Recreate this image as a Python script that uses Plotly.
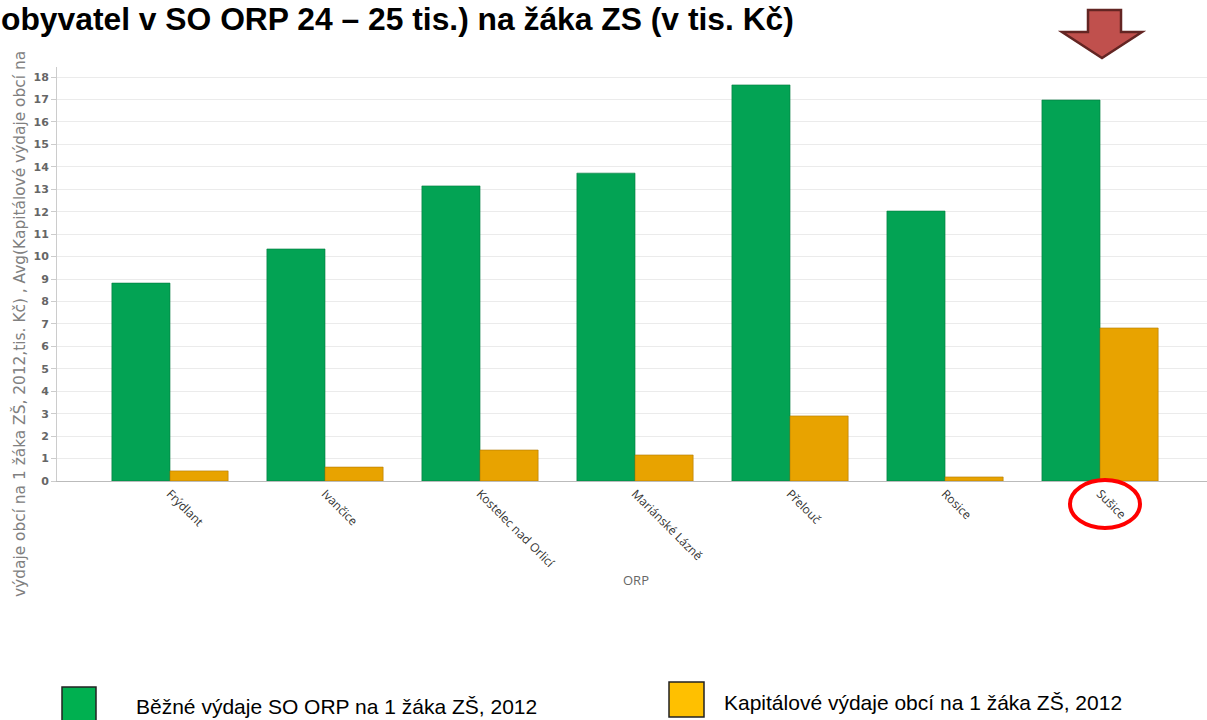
import plotly.graph_objects as go

categories = ["Frýdlant", "Ivančice", "Kostelec nad Orlicí", "Mariánské Lázně",
              "Přelouč", "Rosice", "Sušice"]
bezne = [8.82, 10.34, 13.15, 13.72, 17.65, 12.03, 16.98]
kapitalove = [0.45, 0.62, 1.38, 1.16, 2.90, 0.18, 6.82]
series_names = ["Běžné výdaje SO ORP na 1 žáka ZŠ, 2012",
                "Kapitálové výdaje obcí na 1 žáka ZŠ, 2012"]
y_ticks = list(range(0, 19))

W, H = 1207, 720
L, R, T, B = 57, 0, 67, 239
PW = W - L - R
PH = H - T - B


def px(xp):
    return (xp - L) / PW


def py(yp):
    return (H - B - yp) / PH


fig = go.Figure()
fig.add_trace(go.Bar(x=categories, y=bezne, name=series_names[0],
                     marker=dict(color="#03A354", line=dict(color="#017A3E", width=0.6))))
fig.add_trace(go.Bar(x=categories, y=kapitalove, name=series_names[1],
                     marker=dict(color="#E8A300", line=dict(color="#B07800", width=0.6))))

shapes = []
# red down arrow
pts = [(1088, 10), (1121, 10), (1121, 32), (1142, 32), (1102, 58), (1062, 32), (1088, 32)]
path = "M " + " L ".join(f"{px(a):.5f},{py(b):.5f}" for a, b in pts) + " Z"
shapes.append(dict(type="path", xref="paper", yref="paper", path=path,
                   fillcolor="#C0504D", line=dict(color="#632523", width=2.5)))
# red ellipse around Sušice
shapes.append(dict(type="circle", xref="paper", yref="paper",
                   x0=px(1070), x1=px(1140), y0=py(528), y1=py(480),
                   line=dict(color="#FF0000", width=4)))
# legend squares
shapes.append(dict(type="rect", xref="paper", yref="paper",
                   x0=px(62), x1=px(96), y0=py(723), y1=py(687),
                   fillcolor="#00B050", line=dict(color="#222222", width=1.5)))
shapes.append(dict(type="rect", xref="paper", yref="paper",
                   x0=px(669), x1=px(704), y0=py(717), y1=py(682),
                   fillcolor="#FFC000", line=dict(color="#222222", width=1.5)))

annotations = [
    dict(text="<b>obyvatel v SO ORP 24 – 25 tis.) na žáka ZS (v tis. Kč)</b>",
         xref="paper", yref="paper", x=px(-1), y=py(19), xanchor="left", yanchor="middle",
         showarrow=False, font=dict(family="Liberation Sans", size=31.8, color="#000000")),
    dict(text="výdaje obcí na 1 žáka ZŠ, 2012,tis. Kč) , Avg(Kapitálové výdaje obcí na",
         xref="paper", yref="paper", x=px(19), y=py(324), xanchor="center", yanchor="middle",
         textangle=-90, showarrow=False,
         font=dict(family="DejaVu Sans", size=15.4, color="#808080")),
    dict(text="ORP", xref="paper", yref="paper", x=px(636), y=py(580),
         xanchor="center", yanchor="middle", showarrow=False,
         font=dict(family="Open Sans", size=13, color="#666666")),
    dict(text=series_names[0], xref="paper", yref="paper", x=px(134), y=py(706),
         xanchor="left", yanchor="middle", showarrow=False,
         font=dict(family="Liberation Sans", size=21, color="#000000")),
    dict(text=series_names[1], xref="paper", yref="paper", x=px(722), y=py(702),
         xanchor="left", yanchor="middle", showarrow=False,
         font=dict(family="Liberation Sans", size=21, color="#000000")),
]

fig.update_layout(
    width=W, height=H,
    margin=dict(l=L, r=R, t=T, b=B, pad=0),
    paper_bgcolor="white", plot_bgcolor="white",
    barmode="group", bargap=0.25, bargroupgap=0,
    showlegend=False,
    shapes=shapes, annotations=annotations,
    xaxis=dict(range=[-0.729, 6.69], tickangle=45, showline=True,
               linecolor="#BBBBBB", linewidth=1, showgrid=False, ticks="",
               tickfont=dict(family="Open Sans", size=12, color="#333333")),
    yaxis=dict(range=[0, 18.45], tickvals=y_ticks, showline=True,
               linecolor="#CCCCCC", linewidth=1, gridcolor="#EBEBEB", gridwidth=1,
               ticks="outside", ticklen=5, tickcolor="#CCCCCC", zeroline=False,
               tickfont=dict(family="DejaVu Sans", size=11, color="#666666", weight="bold")),
)

fig.write_html("out.html", config={"displayModeBar": False},
               post_script="document.body.style.margin='0';document.body.style.overflow='hidden';")
